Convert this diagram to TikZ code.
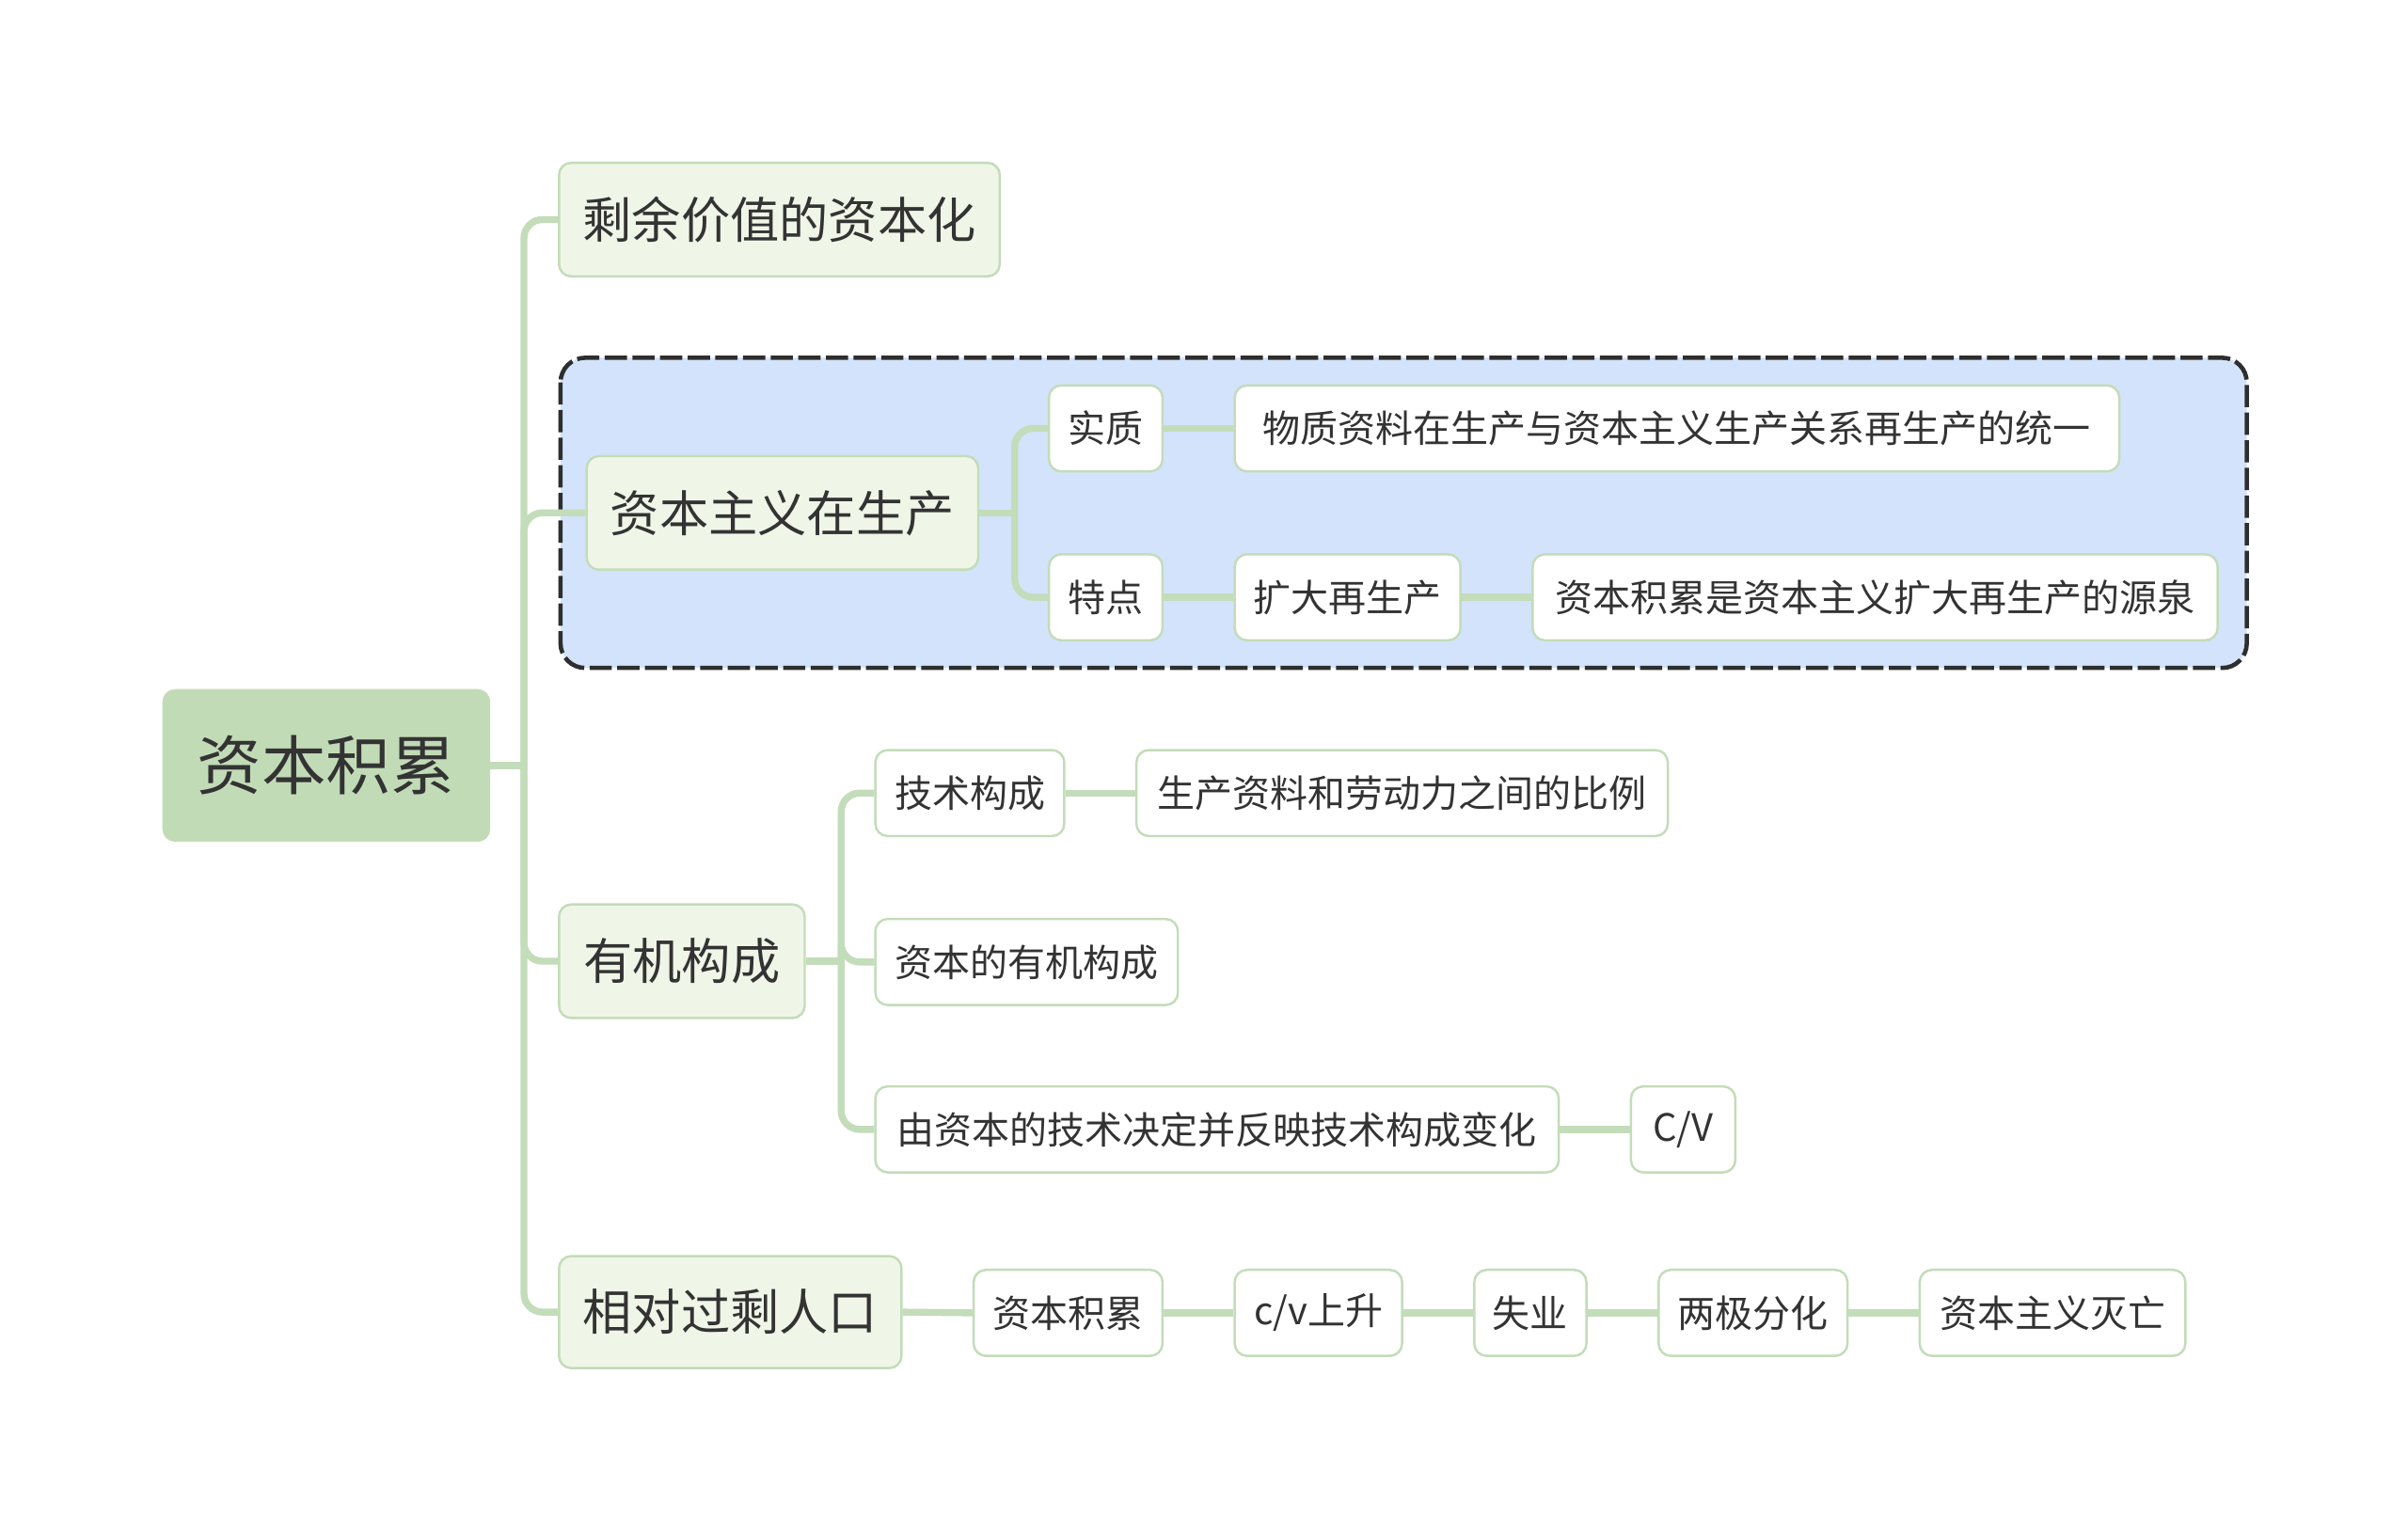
\documentclass[tikz,border=0pt]{standalone}
\usepackage{fontspec}
\setmainfont{Noto Sans CJK SC}
\definecolor{lnk}{HTML}{C3DCB9}
\definecolor{rootfill}{HTML}{C2DBB7}
\definecolor{lonefill}{HTML}{EFF6E8}
\definecolor{boxblue}{HTML}{D3E3FB}
\definecolor{txt}{HTML}{333333}
\definecolor{dashcol}{HTML}{2E2E2E}
\begin{document}
\begin{tikzpicture}[x=1pt,y=1pt,
  rootnode/.style={rectangle, rounded corners=8, fill=rootfill, draw=rootfill, text=txt,
    font=\fontsize{42}{50}\selectfont, inner sep=0, minimum width=213, minimum height=99},
  lone/.style={rectangle, rounded corners=8, fill=lonefill, draw=lnk, line width=1.5, text=txt,
    font=\fontsize{32}{38}\selectfont, inner sep=0, minimum height=74},
  ltwo/.style={rectangle, rounded corners=8, fill=white, draw=lnk, line width=1.5, text=txt,
    font=\fontsize{24.5}{30}\selectfont, inner sep=0, minimum height=56},
  link/.style={draw=lnk, line width=4.5, rounded corners=12},
  groupbox/.style={rounded corners=16, fill=boxblue, draw=dashcol, line width=2.8, dash pattern=on 14.5 off 3.5}
]
\useasboundingbox (0,0) rectangle (1568,-998);
\fill[white] (0,0) rectangle (1568,-998);

% dashed group box
\path[groupbox] (365,-233) rectangle (1463,-435);

% nodes
\node[rootnode] (root) at (212.5,-498.5) {资本积累};
\node[lone, minimum width=287] (n1) at (507.5,-143) {剩余价值的资本化};
\node[lone, minimum width=255] (n2) at (509.5,-334) {资本主义在生产};
\node[lone, minimum width=160] (n3) at (444,-626) {有机构成};
\node[lone, minimum width=223, minimum height=73] (n4) at (475.5,-854.5) {相对过剩人口};

\node[ltwo, minimum width=74] (a1) at (720,-279) {实质};
\node[ltwo, minimum width=576] (a2) at (1092,-279) {物质资料在生产与资本主义生产关系再生产的统一};
\node[ltwo, minimum width=74] (b1) at (720,-389) {特点};
\node[ltwo, minimum width=147] (b2) at (877.5,-389) {扩大再生产};
\node[ltwo, minimum width=446] (b3) at (1221,-389) {资本积累是资本主义扩大再生产的源泉};

\node[ltwo, minimum width=123] (c1) at (631.5,-516.5) {技术构成};
\node[ltwo, minimum width=346] (c2) at (913,-516.5) {生产资料和劳动力之间的比例};
\node[ltwo, minimum width=197] (d1) at (668.5,-626.5) {资本的有机构成};
\node[ltwo, minimum width=445] (e1) at (792.5,-735.5) {由资本的技术决定并反映技术构成变化};
\node[ltwo, minimum width=68] (e2) at (1096,-735.5) {C/V};

\node[ltwo, minimum width=123] (f1) at (695.5,-855) {资本积累};
\node[ltwo, minimum width=109] (f2) at (858.5,-855) {c/v上升};
\node[ltwo, minimum width=73] (f3) at (996.5,-855) {失业};
\node[ltwo, minimum width=123] (f4) at (1141.5,-855) {两极分化};
\node[ltwo, minimum width=173] (f5) at (1336.5,-855) {资本主义灭亡};

% connectors
\draw[link] (root.east) -- ++(22,0) coordinate (rt);
\foreach \t in {n1,n2,n3,n4}{
  \draw[link] (rt) |- (\t.west);
}
\draw[link] (n2.east) -- ++(23,0) coordinate (st);
\foreach \t in {a1,b1}{
  \draw[link] (st) |- (\t.west);
}
\draw[link] (n3.east) -- ++(23,0) coordinate (ot);
\foreach \t in {c1,d1,e1}{
  \draw[link] (ot) |- (\t.west);
}
\draw[link] (a1.east) -- (a2.west);
\draw[link] (b1.east) -- (b2.west);
\draw[link] (b2.east) -- (b3.west);
\draw[link] (c1.east) -- (c2.west);
\draw[link] (e1.east) -- (e2.west);
\draw[link] (n4.east) -- (f1.west);
\draw[link] (f1.east) -- (f2.west);
\draw[link] (f2.east) -- (f3.west);
\draw[link] (f3.east) -- (f4.west);
\draw[link] (f4.east) -- (f5.west);
\end{tikzpicture}
\end{document}
